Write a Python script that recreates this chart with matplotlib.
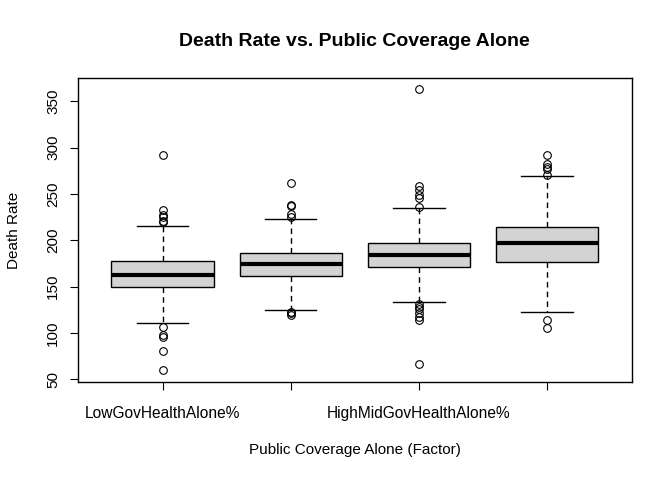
import matplotlib.pyplot as plt

plt.rcParams['font.family'] = ['Liberation Sans', 'DejaVu Sans']

# Box statistics
categories = ['LowGovHealthAlone%', 'LowMidGovHealthAlone%',
              'HighMidGovHealthAlone%', 'HighGovHealthAlone%']
shown_labels = ['LowGovHealthAlone%', '', 'HighMidGovHealthAlone%', '']
q1 = [149.3, 161.1, 170.9, 176.3]
med = [162.2, 174.1, 184.1, 196.8]
q3 = [177.3, 186.0, 196.8, 214.0]
whislo = [110.4, 124.8, 133.4, 122.6]
whishi = [215.4, 222.7, 234.9, 269.1]
fliers = [
    [291.7, 232.7, 227.3, 224.8, 221.1, 219.3, 106.1, 97.8, 95.3, 80.2, 59.7],
    [261.5, 238.2, 237.1, 228.1, 225.5, 123.0, 121.2, 119.4],
    [362.9, 258.6, 254.3, 248.9, 245.3, 235.5,
     131.3, 128.3, 125.5, 121.9, 117.6, 114.0, 66.2],
    [292.0, 282.3, 279.4, 276.6, 270.4, 114.0, 105.4],
]

stats = []
for i, name in enumerate(categories):
    stats.append({'label': shown_labels[i], 'q1': q1[i], 'med': med[i],
                  'q3': q3[i], 'whislo': whislo[i], 'whishi': whishi[i],
                  'fliers': fliers[i]})

fig = plt.figure(figsize=(6.72, 4.8), dpi=100)
ax = fig.add_axes([0.1161, 0.2042, 0.8239, 0.6327])

ax.bxp(stats, positions=[1, 2, 3, 4], widths=0.8, patch_artist=True,
       boxprops=dict(facecolor='#D3D3D3', edgecolor='black', linewidth=1),
       medianprops=dict(color='black', linewidth=3),
       whiskerprops=dict(color='black', linestyle=(0, (4, 3)), linewidth=1),
       capprops=dict(color='black', linewidth=1),
       capwidths=0.4,
       flierprops=dict(marker='o', markerfacecolor='none',
                       markeredgecolor='black', markersize=5.5,
                       markeredgewidth=0.8))

ax.set_xlim(0.34, 4.66)
ax.set_ylim(47.1, 374.8)
ax.set_yticks([50, 100, 150, 200, 250, 300, 350])
ax.tick_params(axis='y', labelrotation=90, labelsize=11, length=6, pad=7)
ax.tick_params(axis='x', labelsize=11.2, length=6, pad=11)
for lab in ax.get_yticklabels():
    lab.set_verticalalignment('center')

for s in ax.spines.values():
    s.set_linewidth(1)

ax.set_title('Death Rate vs. Public Coverage Alone', fontsize=14,
             fontweight='bold', pad=23)
ax.set_xlabel('Public Coverage Alone (Factor)', fontsize=11, labelpad=16)
ax.set_ylabel('Death Rate', fontsize=11, labelpad=18)

fig.savefig('out.png', dpi=100)
